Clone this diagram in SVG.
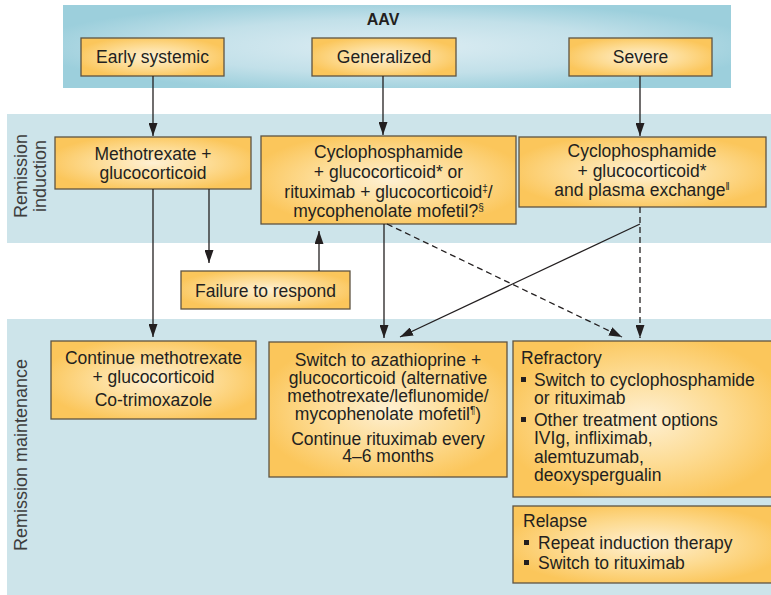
<svg xmlns="http://www.w3.org/2000/svg" width="771" height="595" viewBox="0 0 771 595">
<defs>
<radialGradient id="gBox" cx="0.5" cy="0.5" r="0.55">
<stop offset="0" stop-color="#fef0d3"/>
<stop offset="0.55" stop-color="#fddb92"/>
<stop offset="1" stop-color="#fbc65b"/>
</radialGradient>
<radialGradient id="gTop" cx="0.5" cy="0.5" r="0.55">
<stop offset="0" stop-color="#ddedf3"/>
<stop offset="0.6" stop-color="#c2e0e9"/>
<stop offset="1" stop-color="#9ccfdc"/>
</radialGradient>
<marker id="ah" markerUnits="userSpaceOnUse" markerWidth="14" markerHeight="9" refX="13" refY="4.5" orient="auto">
<path d="M0,0 L13,4.5 L0,9 Z" fill="#231f20"/>
</marker>
</defs>
<style>
.band{fill:#cde4ea}
.box{fill:url(#gBox);stroke:#5e5443;stroke-width:1.3}
text{font-family:"Liberation Sans",Arial,sans-serif;fill:#231f20;font-size:17.5px}
.c{text-anchor:middle}
.lab{fill:#3d3d3d;font-size:18px}
.sup{font-size:10px}
.ln{stroke:#231f20;stroke-width:1.3;fill:none;marker-end:url(#ah)}
.dash{stroke-dasharray:6,4}
</style>
<rect width="771" height="595" fill="#ffffff"/>
<rect x="63" y="5" width="668" height="83" fill="url(#gTop)"/>
<rect class="band" x="7" y="114" width="764" height="129"/>
<rect class="band" x="7" y="319" width="764" height="276"/>
<text x="383" y="25" class="c" style="font-weight:bold;font-size:16px">AAV</text>
<text class="lab c" transform="translate(27,176) rotate(-90)">Remission</text>
<text class="lab c" transform="translate(46,176) rotate(-90)">induction</text>
<text class="lab c" transform="translate(27,455) rotate(-90)">Remission maintenance</text>

<g id="early"><rect class="box" x="81" y="38" width="143" height="38"/><text class="c" x="152.5" y="63">Early systemic</text></g>
<g id="generalized"><rect class="box" x="312" y="38" width="144" height="38"/><text class="c" x="384" y="63">Generalized</text></g>
<g id="severe"><rect class="box" x="569" y="38" width="143" height="38"/><text class="c" x="640.5" y="63">Severe</text></g>

<g id="mtx"><rect class="box" x="55" y="137" width="196" height="52"/><text class="c" x="153" y="160">Methotrexate +</text><text class="c" x="153" y="179">glucocorticoid</text></g>
<g id="cyc"><rect class="box" x="261" y="136" width="255" height="88"/>
<text class="c" x="388.5" y="158">Cyclophosphamide</text>
<text class="c" x="388.5" y="178">+ glucocorticoid* or</text>
<text class="c" x="388.5" y="198">rituximab + glucocorticoid<tspan class="sup" dy="-6">‡</tspan><tspan dy="6">/</tspan></text>
<text class="c" x="388.5" y="217">mycophenolate mofetil?<tspan class="sup" dy="-6">§</tspan></text></g>
<g id="cycpe"><rect class="box" x="519" y="137" width="247" height="70"/>
<text class="c" x="642" y="157">Cyclophosphamide</text>
<text class="c" x="642" y="177">+ glucocorticoid*</text>
<text class="c" x="642" y="196">and plasma exchange<tspan class="sup" dy="-6">‖</tspan></text></g>

<g id="failure"><rect class="box" x="181" y="271" width="169" height="38"/><text class="c" x="265.5" y="297">Failure to respond</text></g>

<g id="contmtx"><rect class="box" x="51" y="341" width="205" height="78"/>
<text class="c" x="153.5" y="364">Continue methotrexate</text>
<text class="c" x="153.5" y="383">+ glucocorticoid</text>
<text class="c" x="153.5" y="406">Co-trimoxazole</text></g>
<g id="switch"><rect class="box" x="269" y="342" width="238" height="135"/>
<text class="c" x="388" y="366">Switch to azathioprine +</text>
<text class="c" x="388" y="384">glucocorticoid (alternative</text>
<text class="c" x="388" y="402">methotrexate/leflunomide/</text>
<text class="c" x="388" y="420">mycophenolate mofetil<tspan class="sup" dy="-6">¶</tspan><tspan dy="6">)</tspan></text>
<text class="c" x="388" y="445">Continue rituximab every</text>
<text class="c" x="388" y="462">4–6 months</text></g>
<g id="refractory"><rect class="box" x="513" y="341" width="264" height="156"/>
<text x="521" y="364">Refractory</text>
<rect x="521" y="377" width="5" height="5" fill="#231f20"/>
<text x="534" y="386">Switch to cyclophosphamide</text>
<text x="534" y="404">or rituximab</text>
<rect x="521" y="417" width="5" height="5" fill="#231f20"/>
<text x="534" y="426">Other treatment options</text>
<text x="534" y="444">IVIg, infliximab,</text>
<text x="534" y="463">alemtuzumab,</text>
<text x="534" y="481">deoxyspergualin</text></g>
<g id="relapse"><rect class="box" x="513" y="506" width="264" height="77"/>
<text x="523" y="527">Relapse</text>
<rect x="524" y="540" width="5" height="5" fill="#231f20"/>
<text x="538" y="549">Repeat induction therapy</text>
<rect x="524" y="560" width="5" height="5" fill="#231f20"/>
<text x="538" y="569">Switch to rituximab</text></g>

<g id="connectors">
<path class="ln" d="M153,76 V136"/>
<path class="ln" d="M383,76 V135"/>
<path class="ln" d="M640,76 V136"/>
<path class="ln" d="M153,189 V337"/>
<path class="ln" d="M209,189 V263"/>
<path class="ln" d="M319,271 V231"/>
<path class="ln" d="M384,224 V338"/>
<path class="ln dash" d="M387,224 L622,337"/>
<path class="ln dash" d="M640,207 V338"/>
<path class="ln" d="M640,224 L400,337"/>
</g>
</svg>
